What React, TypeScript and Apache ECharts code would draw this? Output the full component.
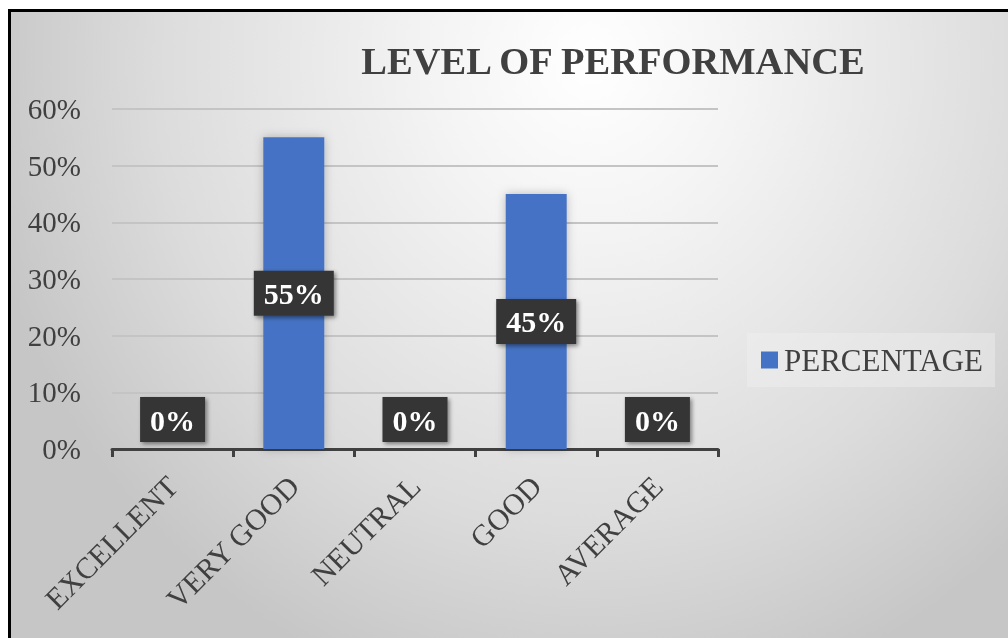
import React, { useEffect, useRef } from "react";
import * as echarts from "echarts";

const categories = ["EXCELLENT", "VERY GOOD", "NEUTRAL", "GOOD", "AVERAGE"];
const percentages = [0, 55, 0, 45, 0];
const seriesName = "PERCENTAGE";
const titleText = "LEVEL OF PERFORMANCE";
const yMax = 60;
const yStep = 10;

const FONT = "'Liberation Serif', 'Times New Roman', serif";
const TEXT = "#404040";

export default function App() {
  const ref = useRef<HTMLDivElement>(null);
  useEffect(() => {
    if (!ref.current) return;
    const chart = echarts.init(ref.current, undefined, { renderer: "svg" });
    const labelBase = {
      show: true,
      formatter: "{c}%",
      color: "#ffffff",
      fontFamily: FONT,
      fontWeight: "bold",
      fontSize: 30,
      lineHeight: 34,
      backgroundColor: "#353535",
      padding: [6, 10, 5, 10],
      shadowColor: "rgba(0,0,0,0.45)",
      shadowBlur: 4,
      shadowOffsetX: 2,
      shadowOffsetY: 2,
    };
    chart.setOption({
      animation: false,
      backgroundColor: "transparent",
      graphic: [
        {
          type: "text",
          x: 613,
          y: 61,
          style: {
            text: titleText,
            fill: TEXT,
            font: `bold 38.5px ${FONT}`,
            textAlign: "center",
            textVerticalAlign: "middle",
          },
        },
      ],
      legend: {
        data: [seriesName],
        left: 747,
        top: 333,
        orient: "vertical",
        backgroundColor: "rgba(240,240,240,0.45)",
        padding: [11, 12, 11, 14],
        itemWidth: 17,
        itemHeight: 17,
        itemGap: 0,
        icon: "rect",
        textStyle: {
          color: TEXT,
          fontFamily: FONT,
          fontSize: 31,
          lineHeight: 32,
          padding: [0, 0, 0, 1],
        },
      },
      grid: { left: 112, right: 290, top: 109, bottom: 189, containLabel: false },
      xAxis: {
        type: "category",
        data: categories,
        boundaryGap: true,
        axisLine: { show: true, lineStyle: { color: TEXT, width: 3 } },
        axisTick: { show: true, length: 8, lineStyle: { color: TEXT, width: 3 } },
        axisLabel: {
          rotate: 45,
          interval: 0,
          margin: 32,
          color: TEXT,
          fontFamily: FONT,
          fontSize: 30,
        },
        splitLine: { show: false },
      },
      yAxis: {
        type: "value",
        min: 0,
        max: yMax,
        interval: yStep,
        axisLine: { show: false },
        axisTick: { show: false },
        axisLabel: {
          formatter: "{value}%",
          margin: 31,
          color: TEXT,
          fontFamily: FONT,
          fontSize: 29,
        },
        splitLine: { show: true, lineStyle: { color: "#c4c4c4", width: 2 } },
      },
      series: [
        {
          name: seriesName,
          type: "bar",
          barWidth: 61,
          itemStyle: {
            color: "#4472C4",
            shadowColor: "rgba(0,0,0,0.25)",
            shadowBlur: 10,
          },
          data: percentages.map((v) =>
            v === 0
              ? { value: v, label: { ...labelBase, position: "top", distance: 7 } }
              : { value: v, label: { ...labelBase, position: "inside" } }
          ),
        },
      ],
    });
    return () => chart.dispose();
  }, []);

  return (
    <>
      <div
        style={{
          position: "fixed",
          left: 8,
          top: 9,
          width: 1000,
          height: 629,
          boxSizing: "border-box",
          borderLeft: "3px solid #000",
          borderTop: "3px solid #000",
          background:
            "radial-gradient(ellipse 62% 105% at 58% 8%, #ffffff 0%, #f4f4f4 25%, #dcdcdc 70%, #c6c6c6 100%)",
        }}
      />
      <div
        ref={ref}
        style={{ position: "fixed", left: 0, top: 0, width: 1008, height: 638 }}
      />
    </>
  );
}
